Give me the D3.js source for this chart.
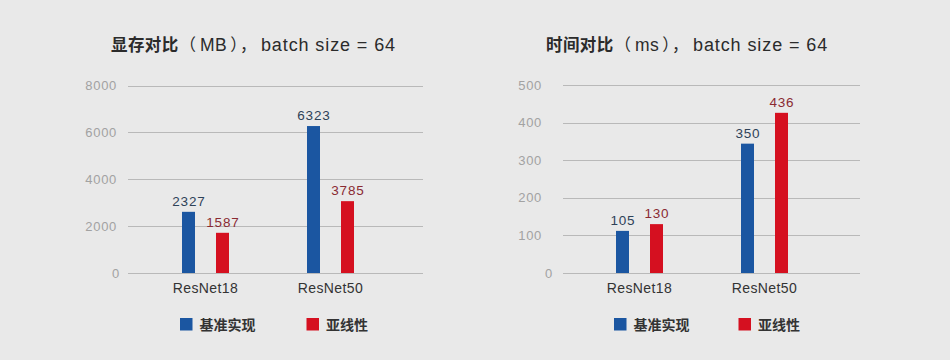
<!DOCTYPE html>
<html>
<head>
<meta charset="utf-8">
<script src="https://cdn.jsdelivr.net/npm/d3@7"></script>
<style>
  html, body { margin: 0; padding: 0; background: #e9e9e9; }
  svg { display: block; }
</style>
</head>
<body>
<svg id="chart" width="950" height="360"></svg>
<script>
// ---- data ----
const categories = ["ResNet18", "ResNet50"];
const seriesNames = ["基准实现", "亚线性"];
const seriesColors = ["#1b56a1", "#d51020"];
const labelColors = ["#2e4258", "#8a2a32"];

// memory chart (MB): bar heights as drawn, and printed labels
const memBase = [2610, 6270];
const memSub = [1715, 3065];
const memBaseLabels = ["2327", "6323"];
const memSubLabels = ["1587", "3785"];
const memTicks = [0, 2000, 4000, 6000, 8000];
const memTitleParts = ["显存对比", "（", "MB", "），", "batch size = 64"];

// time chart (ms)
const timeBase = [112, 344];
const timeSub = [130, 426];
const timeBaseLabels = ["105", "350"];
const timeSubLabels = ["130", "436"];
const timeTicks = [0, 100, 200, 300, 400, 500];
const timeTitleParts = ["时间对比", "（", "ms", "），", "batch size = 64"];

const svg = d3.select("#chart");
const FONT = "'Liberation Sans', Arial, 'Noto Sans CJK SC', sans-serif";
const CJK = "'Noto Sans CJK SC', 'Liberation Sans', sans-serif";

function drawPanel(cfg) {
  const g = svg.append("g");
  const y = d3.scaleLinear().domain([0, cfg.ticks[cfg.ticks.length - 1]]).range([273, cfg.top]);
  const x = d3.scaleBand().domain(categories).range([cfg.bandStart, cfg.bandStart + 250]);
  const xs = d3.scaleBand().domain(seriesNames).range([0, 47]).paddingInner(21 / 34);

  // title (CJK parts bold in CJK font, latin parts in sans)
  const t = g.append("text")
    .attr("x", cfg.titleX).attr("y", 51)
    .attr("fill", "#2b2b2b");
  const p = cfg.titleParts;
  t.append("tspan").attr("font-family", CJK).attr("font-size", 16.5)
    .style("font-weight", 700).attr("letter-spacing", 0.4).text(p[0]);
  t.append("tspan").attr("font-family", CJK).attr("font-size", 16.5)
    .attr("dx", 1).text(p[1]);
  t.append("tspan").attr("font-family", FONT).attr("font-size", 17.5)
    .attr("dx", 4).attr("letter-spacing", 0.4).text(p[2]);
  t.append("tspan").attr("font-family", CJK).attr("font-size", 16.5)
    .attr("dx", 3).attr("letter-spacing", 1.5).text(p[3]);
  t.append("tspan").attr("font-family", FONT).attr("font-size", 18)
    .attr("dx", 3).attr("letter-spacing", 0.9).style("font-weight", 500).text(p[4]);

  // gridlines
  g.append("g").selectAll("line").data(cfg.ticks).join("line")
    .attr("x1", cfg.gridX0).attr("x2", cfg.gridX1)
    .attr("y1", d => Math.round(y(d)) + 0.5).attr("y2", d => Math.round(y(d)) + 0.5)
    .attr("stroke", "#b9b9b9").attr("stroke-width", 1);

  // tick labels
  g.append("g").selectAll("text").data(cfg.ticks).join("text")
    .attr("x", d => d === 0 ? cfg.tickX + cfg.zeroShift : cfg.tickX)
    .attr("y", d => y(d))
    .attr("dy", "0.35em").attr("text-anchor", "end")
    .attr("font-family", FONT).attr("font-size", 13)
    .attr("letter-spacing", 0.7)
    .attr("fill", "#a2a2a2")
    .text(d => d);

  // bars
  const series = [cfg.base, cfg.sub];
  const labels = [cfg.baseLabels, cfg.subLabels];
  seriesNames.forEach((s, si) => {
    const data = categories.map((c, ci) => ({ c, v: series[si][ci], lab: labels[si][ci] }));
    const cx = c => x(c) + x.bandwidth() / 2 - 23.5 + xs(s);
    g.append("g").selectAll("rect").data(data).join("rect")
      .attr("x", d => cx(d.c))
      .attr("y", d => y(d.v))
      .attr("width", xs.bandwidth())
      .attr("height", d => y(0) - y(d.v))
      .attr("fill", seriesColors[si]);
    g.append("g").selectAll("text").data(data).join("text")
      .attr("x", d => cx(d.c) + xs.bandwidth() / 2 + 0.4)
      .attr("y", d => y(d.v) - 6)
      .attr("text-anchor", "middle")
      .attr("font-family", FONT).attr("font-size", 13.5)
      .attr("letter-spacing", 0.8)
      .attr("fill", labelColors[si])
      .text(d => d.lab);
  });

  // category labels
  g.append("g").selectAll("text").data(categories).join("text")
    .attr("x", d => x(d) + x.bandwidth() / 2)
    .attr("y", 293)
    .attr("text-anchor", "middle")
    .attr("font-family", FONT).attr("font-size", 14)
    .attr("letter-spacing", 0.4)
    .attr("fill", "#333")
    .text(d => d);

  // legend
  seriesNames.forEach((s, si) => {
    g.append("rect")
      .attr("x", cfg.legendX[si]).attr("y", 318)
      .attr("width", 12.5).attr("height", 12.5)
      .attr("fill", seriesColors[si]);
    g.append("text")
      .attr("x", cfg.legendX[si] + 19.5).attr("y", 329.5)
      .attr("font-family", CJK).attr("font-size", 14)
      .style("font-weight", 700)
      .attr("fill", "#333")
      .text(s);
  });
}

drawPanel({
  titleParts: memTitleParts, titleX: 111, top: 85.5,
  ticks: memTicks, base: memBase, sub: memSub,
  baseLabels: memBaseLabels, subLabels: memSubLabels,
  gridX0: 128, gridX1: 423, tickX: 117, zeroShift: 3, bandStart: 143,
  legendX: [180, 306.5]
});

drawPanel({
  titleParts: timeTitleParts, titleX: 546, top: 85,
  ticks: timeTicks, base: timeBase, sub: timeSub,
  baseLabels: timeBaseLabels, subLabels: timeSubLabels,
  gridX0: 563, gridX1: 860, tickX: 542, zeroShift: 11, bandStart: 577,
  legendX: [614, 738.5]
});
</script>
</body>
</html>
